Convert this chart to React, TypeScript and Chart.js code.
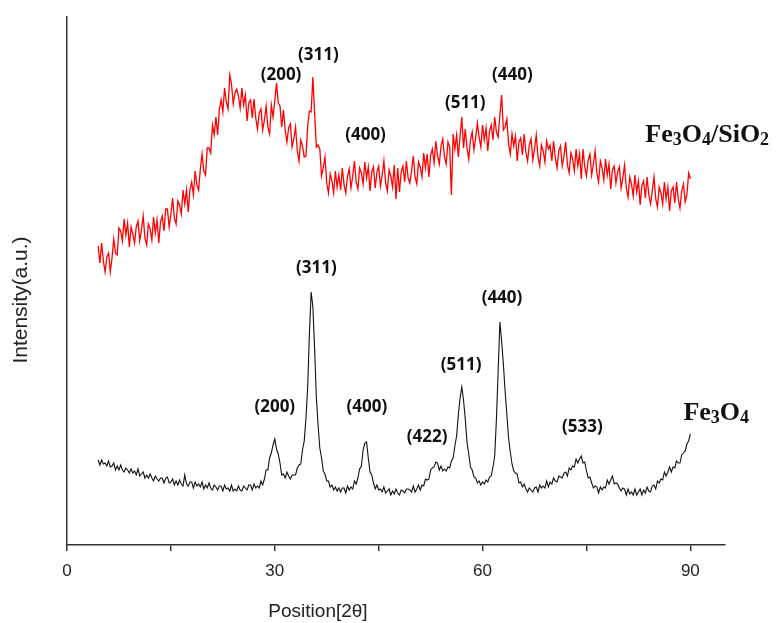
import { useEffect, useRef } from "react";
import { Chart, registerables } from "chart.js";

Chart.register(...registerables);

// 2θ positions (degrees), 0.25° steps
const twoTheta = [
  4.5, 4.75, 5, 5.25, 5.5, 5.75, 6, 6.25, 6.5, 6.75, 7, 7.25, 7.5, 7.75, 8, 8.25, 8.5, 8.75, 9, 9.25,
  9.5, 9.75, 10, 10.25, 10.5, 10.75, 11, 11.25, 11.5, 11.75, 12, 12.25, 12.5, 12.75, 13, 13.25, 13.5, 13.75, 14, 14.25,
  14.5, 14.75, 15, 15.25, 15.5, 15.75, 16, 16.25, 16.5, 16.75, 17, 17.25, 17.5, 17.75, 18, 18.25, 18.5, 18.75, 19, 19.25,
  19.5, 19.75, 20, 20.25, 20.5, 20.75, 21, 21.25, 21.5, 21.75, 22, 22.25, 22.5, 22.75, 23, 23.25, 23.5, 23.75, 24, 24.25,
  24.5, 24.75, 25, 25.25, 25.5, 25.75, 26, 26.25, 26.5, 26.75, 27, 27.25, 27.5, 27.75, 28, 28.25, 28.5, 28.75, 29, 29.25,
  29.5, 29.75, 30, 30.25, 30.5, 30.75, 31, 31.25, 31.5, 31.75, 32, 32.25, 32.5, 32.75, 33, 33.25, 33.5, 33.75, 34, 34.25,
  34.5, 34.75, 35, 35.25, 35.5, 35.75, 36, 36.25, 36.5, 36.75, 37, 37.25, 37.5, 37.75, 38, 38.25, 38.5, 38.75, 39, 39.25,
  39.5, 39.75, 40, 40.25, 40.5, 40.75, 41, 41.25, 41.5, 41.75, 42, 42.25, 42.5, 42.75, 43, 43.25, 43.5, 43.75, 44, 44.25,
  44.5, 44.75, 45, 45.25, 45.5, 45.75, 46, 46.25, 46.5, 46.75, 47, 47.25, 47.5, 47.75, 48, 48.25, 48.5, 48.75, 49, 49.25,
  49.5, 49.75, 50, 50.25, 50.5, 50.75, 51, 51.25, 51.5, 51.75, 52, 52.25, 52.5, 52.75, 53, 53.25, 53.5, 53.75, 54, 54.25,
  54.5, 54.75, 55, 55.25, 55.5, 55.75, 56, 56.25, 56.5, 56.75, 57, 57.25, 57.5, 57.75, 58, 58.25, 58.5, 58.75, 59, 59.25,
  59.5, 59.75, 60, 60.25, 60.5, 60.75, 61, 61.25, 61.5, 61.75, 62, 62.25, 62.5, 62.75, 63, 63.25, 63.5, 63.75, 64, 64.25,
  64.5, 64.75, 65, 65.25, 65.5, 65.75, 66, 66.25, 66.5, 66.75, 67, 67.25, 67.5, 67.75, 68, 68.25, 68.5, 68.75, 69, 69.25,
  69.5, 69.75, 70, 70.25, 70.5, 70.75, 71, 71.25, 71.5, 71.75, 72, 72.25, 72.5, 72.75, 73, 73.25, 73.5, 73.75, 74, 74.25,
  74.5, 74.75, 75, 75.25, 75.5, 75.75, 76, 76.25, 76.5, 76.75, 77, 77.25, 77.5, 77.75, 78, 78.25, 78.5, 78.75, 79, 79.25,
  79.5, 79.75, 80, 80.25, 80.5, 80.75, 81, 81.25, 81.5, 81.75, 82, 82.25, 82.5, 82.75, 83, 83.25, 83.5, 83.75, 84, 84.25,
  84.5, 84.75, 85, 85.25, 85.5, 85.75, 86, 86.25, 86.5, 86.75, 87, 87.25, 87.5, 87.75, 88, 88.25, 88.5, 88.75, 89, 89.25,
  89.5, 89.75, 90,
];

// Fe3O4/SiO2 intensity (a.u., offset trace)
const fe3o4SiO2 = [
  299, 282, 302, 284, 273, 288, 292, 273, 287, 306, 292, 290, 317, 314, 304, 326, 310, 322, 298, 318,
  311, 302, 318, 324, 304, 315, 329, 307, 300, 321, 316, 305, 328, 312, 325, 302, 323, 329, 314, 336,
  336, 318, 331, 347, 327, 321, 344, 340, 331, 355, 341, 355, 333, 355, 363, 350, 374, 360, 355, 376,
  391, 374, 370, 397, 397, 392, 420, 410, 428, 410, 436, 445, 433, 457, 443, 436, 470, 461, 441, 452,
  456, 449, 437, 457, 440, 450, 424, 442, 445, 427, 446, 427, 416, 432, 436, 415, 425, 439, 418, 411,
  440, 428, 444, 462, 442, 439, 418, 435, 415, 403, 417, 421, 398, 406, 418, 394, 384, 405, 399, 388,
  389, 419, 434, 433, 468, 432, 398, 400, 396, 369, 377, 388, 362, 352, 371, 364, 352, 374, 358, 370,
  355, 377, 360, 352, 369, 376, 357, 369, 384, 363, 356, 377, 372, 361, 383, 367, 378, 354, 373, 378,
  357, 373, 379, 359, 370, 384, 362, 354, 375, 369, 358, 380, 346, 377, 353, 373, 379, 363, 384, 367,
  362, 374, 389, 368, 361, 383, 378, 368, 392, 377, 391, 368, 390, 396, 382, 404, 389, 381, 399, 406,
  388, 381, 403, 398, 350, 411, 396, 410, 388, 409, 428, 397, 416, 397, 386, 405, 413, 395, 407, 422,
  408, 398, 420, 405, 417, 394, 414, 420, 405, 428, 413, 408, 430, 450, 415, 418, 426, 401, 391, 411,
  399, 409, 384, 403, 407, 390, 411, 393, 384, 400, 406, 385, 396, 410, 388, 379, 400, 394, 383, 404,
  396, 400, 384, 404, 387, 377, 394, 399, 379, 389, 403, 380, 372, 392, 386, 374, 396, 379, 391, 366,
  396, 378, 369, 385, 391, 370, 381, 394, 372, 363, 384, 377, 365, 386, 370, 381, 356, 375, 379, 362,
  373, 378, 357, 367, 380, 357, 348, 368, 361, 349, 370, 353, 364, 340, 359, 364, 347, 368, 350, 341,
  354, 368, 346, 338, 358, 352, 341, 363, 346, 358, 334, 354, 358, 342, 363, 346, 337, 354, 361, 343,
  350, 372, 366,
];

// Fe3O4 intensity (a.u.)
const fe3o4 = [
  85, 80, 85, 81, 82, 79, 84, 78, 79, 82, 75, 79, 75, 80, 75, 73, 77, 75, 72, 76,
  72, 74, 70, 76, 69, 71, 73, 67, 70, 67, 71, 67, 64, 69, 66, 64, 67, 67, 62, 67,
  68, 62, 63, 66, 60, 64, 60, 65, 61, 59, 70, 61, 59, 63, 63, 57, 63, 59, 61, 58,
  63, 56, 60, 57, 62, 57, 55, 60, 58, 55, 59, 59, 54, 60, 56, 57, 54, 60, 54, 56,
  54, 59, 55, 54, 59, 57, 55, 60, 60, 55, 61, 57, 59, 57, 64, 60, 66, 75, 75, 87,
  92, 100, 106, 96, 91, 82, 70, 71, 67, 73, 69, 66, 70, 70, 70, 77, 80, 81, 95, 104,
  127, 158, 212, 253, 238, 196, 148, 120, 97, 87, 74, 71, 64, 64, 58, 60, 55, 58, 54, 57,
  53, 57, 57, 52, 59, 55, 58, 56, 64, 61, 67, 76, 79, 95, 102, 103, 87, 73, 70, 62,
  56, 60, 55, 56, 53, 58, 52, 54, 56, 50, 54, 51, 56, 52, 50, 55, 54, 52, 56, 56,
  55, 53, 59, 53, 56, 60, 55, 60, 59, 66, 65, 66, 75, 77, 78, 83, 82, 75, 79, 74,
  76, 74, 78, 77, 84, 87, 99, 109, 130, 147, 158, 145, 126, 103, 91, 78, 75, 68, 67, 62,
  64, 60, 63, 61, 65, 63, 68, 69, 78, 89, 126, 174, 223, 204, 181, 154, 131, 107, 93, 81,
  74, 72, 71, 62, 63, 58, 61, 56, 53, 57, 55, 53, 57, 58, 53, 60, 57, 59, 57, 64,
  58, 63, 61, 67, 64, 63, 69, 68, 67, 72, 73, 69, 77, 75, 79, 78, 86, 82, 86, 89,
  82, 83, 74, 67, 68, 62, 57, 59, 58, 52, 58, 55, 58, 57, 65, 61, 65, 69, 61, 62,
  61, 57, 54, 57, 56, 50, 56, 51, 53, 50, 56, 50, 53, 56, 50, 55, 52, 58, 54, 53,
  59, 60, 56, 64, 62, 66, 65, 73, 69, 73, 78, 73, 78, 77, 84, 82, 82, 90, 92, 94,
  101, 104, 111,
];

// x-axis ticks
const xTickValues = [0, 15, 30, 45, 60, 75, 90];
const xTickLabels = ["0", "", "30", "", "60", "", "90"];

// peak annotations (label, 2θ, intensity)
const blackPeakNames = ["(200)", "(311)", "(400)", "(422)", "(511)", "(440)", "(533)"];
const blackPeakAngles = [30.0, 36.0, 43.3, 52.0, 56.9, 62.8, 74.4];
const blackPeakHeights = [138, 277, 138, 108, 180, 247, 118];

const redPeakNames = ["(200)", "(311)", "(400)", "(511)", "(440)"];
const redPeakAngles = [30.9, 36.3, 43.1, 57.5, 64.3];
const redPeakHeights = [470, 490, 410, 442, 470];

// series name labels
const seriesNamesParts: [string, boolean][][] = [
  [["Fe", false], ["3", true], ["O", false], ["4", true], ["/SiO", false], ["2", true]],
  [["Fe", false], ["3", true], ["O", false], ["4", true]],
];
const seriesNameAngles = [83.5, 89.0];
const seriesNameHeights = [403, 125];

const textPlugin = {
  id: "xrdTexts",
  afterDraw(chart: any) {
    const { ctx, scales } = chart;
    const x = scales.x;
    const y = scales.y;
    ctx.save();
    ctx.fillStyle = "#111";
    ctx.textAlign = "center";
    ctx.textBaseline = "middle";
    ctx.font = '700 17px "Open Sans"';
    blackPeakNames.forEach((n, i) => {
      ctx.fillText(n, x.getPixelForValue(blackPeakAngles[i]), y.getPixelForValue(blackPeakHeights[i]));
    });
    redPeakNames.forEach((n, i) => {
      ctx.fillText(n, x.getPixelForValue(redPeakAngles[i]), y.getPixelForValue(redPeakHeights[i]));
    });

    ctx.textAlign = "left";
    ctx.textBaseline = "alphabetic";
    seriesNamesParts.forEach((parts, i) => {
      let px = x.getPixelForValue(seriesNameAngles[i]);
      const base = y.getPixelForValue(seriesNameHeights[i]);
      parts.forEach(([t, sub]) => {
        ctx.font = sub ? '700 18px "Liberation Serif"' : '700 26px "Liberation Serif"';
        ctx.fillText(t, px, sub ? base + 3 : base);
        px += ctx.measureText(t).width;
      });
    });

    const area = chart.chartArea;
    ctx.font = '19px "Liberation Sans"';
    ctx.fillStyle = "#222";
    ctx.textAlign = "center";
    ctx.textBaseline = "middle";
    ctx.fillText("Position[2θ]", area.left + 251, 612);
    ctx.font = '21px "Liberation Sans"';
    ctx.translate(21, 300);
    ctx.rotate(-Math.PI / 2);
    ctx.fillText("Intensity(a.u.)", 0, 0);
    ctx.restore();
  },
};

export default function App() {
  const ref = useRef<HTMLCanvasElement>(null);
  useEffect(() => {
    if (!ref.current) return;
    const chart = new Chart(ref.current, {
      type: "line",
      data: {
        datasets: [
          {
            label: "Fe3O4/SiO2",
            data: twoTheta.map((t, i) => ({ x: t, y: fe3o4SiO2[i] })),
            borderColor: "#ff0000",
            borderWidth: 1.3,
            pointRadius: 0,
            tension: 0,
          },
          {
            label: "Fe3O4",
            data: twoTheta.map((t, i) => ({ x: t, y: fe3o4[i] })),
            borderColor: "#111111",
            borderWidth: 1.1,
            pointRadius: 0,
            tension: 0,
          },
        ],
      },
      options: {
        animation: false,
        responsive: true,
        maintainAspectRatio: false,
        layout: { padding: { left: 67, right: 51, top: 17, bottom: 33 } },
        plugins: { legend: { display: false }, tooltip: { enabled: false } },
        scales: {
          x: {
            type: "linear",
            min: 0,
            max: 95,
            afterBuildTicks: (s: any) => {
              s.ticks = xTickValues.map((v) => ({ value: v }));
            },
            afterFit: (s: any) => {
              s.height = 45;
            },
            ticks: {
              autoSkip: false,
              maxRotation: 0,
              padding: 10,
              color: "#222",
              font: { family: "Liberation Sans", size: 17 },
              callback: (v: any) => {
                const idx = xTickValues.indexOf(Number(v));
                return idx >= 0 ? xTickLabels[idx] : "";
              },
            },
            grid: {
              display: true,
              drawOnChartArea: false,
              drawTicks: true,
              tickLength: 6,
              color: "#333",
              lineWidth: 1.5,
            },
            border: { display: true, color: "#333", width: 1.5 },
          },
          y: {
            type: "linear",
            min: 0,
            max: 528,
            afterFit: (s: any) => {
              s.width = 0;
            },
            ticks: { display: false },
            grid: { display: false, drawTicks: false },
            border: { display: true, color: "#333", width: 1.5 },
          },
        },
      },
      plugins: [textPlugin],
    });
    return () => chart.destroy();
  }, []);
  return (
    <div style={{ position: "absolute", left: 0, top: 0, width: 776, height: 623, background: "#fff" }}>
      <canvas ref={ref} />
    </div>
  );
}
